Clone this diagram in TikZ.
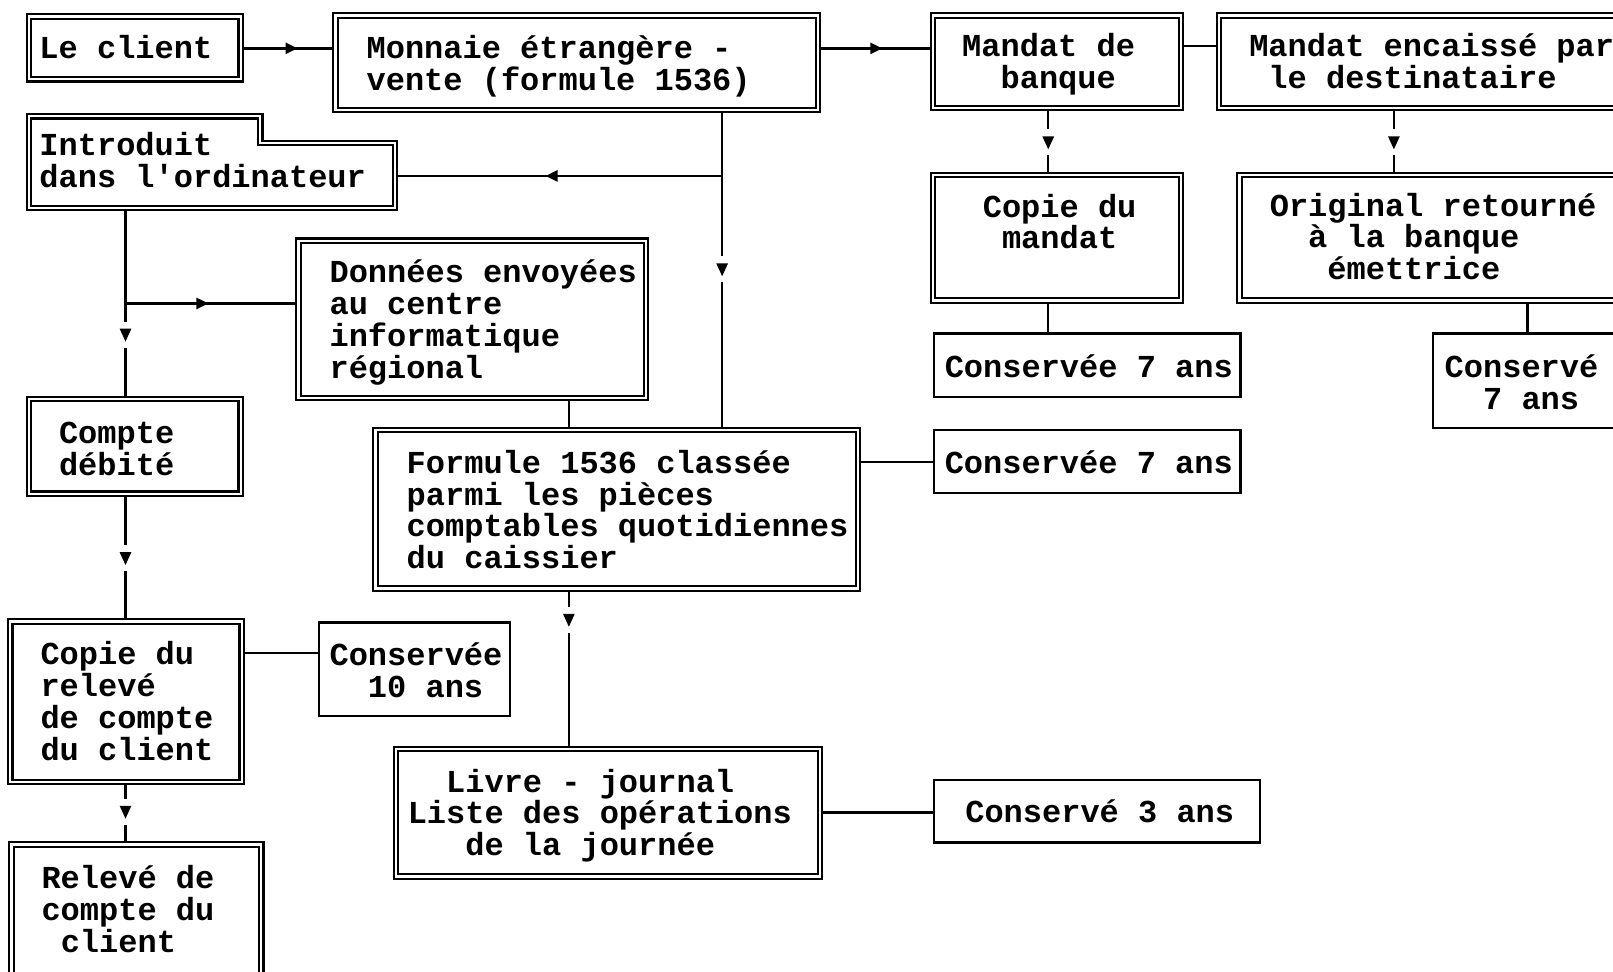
\documentclass[tikz,border=0pt]{standalone}
\usepackage{fontspec}
\newfontfamily\monofnt{Liberation Mono}
\usetikzlibrary{arrows.meta,decorations.markings,fit,backgrounds}
\begin{document}
\begin{tikzpicture}[x=0.51435pt,y=-0.51435pt,
  dbox/.style={draw, double, line width=1.05pt, double distance=1.2pt, inner sep=0pt, outer sep=0pt},
  hbox/.style={inner sep=0pt, outer sep=0pt},
  sbox/.style={draw, line width=1.2pt, inner sep=0pt, outer sep=0pt},
  txt/.style={anchor=base west, inner sep=0pt, align=left, font=\monofnt\bfseries\fontsize{16}{15.95}\selectfont},
  conn/.style={line width=1.2pt},
  arrowat/.style={postaction={decorate}, decoration={markings, mark=at position #1 with {\arrow{Triangle[length=6pt,width=5.5pt]}}}},
  gaparrowat/.style={postaction={decorate}, decoration={markings, mark=at position #1 with {\fill[white] (-10pt,-2.5pt) rectangle (3pt,2.5pt); \arrow{Triangle[length=6.5pt,width=5.5pt]}}}},
]
\useasboundingbox (0,0) rectangle (1568,944);
\clip (0,0) rectangle (1568,944);

% boxes
\node[dbox, fit={(28,16) (234,77)}] (client) {};
\node[dbox, fit={(326,15) (795,107)}] (monnaie) {};
\node[dbox, fit={(907,15) (1148,105)}] (mandatb) {};
\node[dbox, fit={(1185,15) (1600,105)}] (encaisse) {};
\node[hbox, fit={(28,113) (384,202)}] (intro) {};
\draw[double, line width=1.05pt, double distance=1.2pt, line join=miter]
  (28,113) -- (253,113) -- (253,139) -- (384,139) -- (384,202) -- (28,202) -- cycle;
\node[dbox, fit={(290,234) (628,387)}] (donnees) {};
\node[dbox, fit={(907,170) (1148,292)}] (copiem) {};
\node[dbox, fit={(1205,170) (1600,292)}] (original) {};
\node[sbox, fit={(908,324) (1206,386)}] (cons7a) {};
\node[sbox, fit={(1393,324) (1600,416)}] (cons7b) {};
\node[dbox, fit={(28,388) (234,480)}] (compte) {};
\node[dbox, fit={(365,418) (834,572)}] (formule) {};
\node[sbox, fit={(908,418) (1206,479)}] (cons7c) {};
\node[dbox, fit={(10,604) (235,760)}] (copier) {};
\node[sbox, fit={(310,605) (496,696)}] (cons10) {};
\node[dbox, fit={(385,728) (797,852)}] (livre) {};
\node[sbox, fit={(908,758) (1225,819)}] (cons3) {};
\node[dbox, fit={(11,821) (254,975)}] (releve) {};

% texts (anchored at the baseline of their last line)
\node[txt] (tclient) at (38,57) {Le client};
\node[txt] (tmonnaie) at (356,88) {Monnaie étrangère -\\vente (formule 1536)};
\node[txt] (tmandatb) at (935,86) {Mandat de\\~~banque};
\node[txt] (tencaisse) at (1214,86) {Mandat encaissé par\\~le destinataire};
\node[txt] (tintro) at (38,182) {Introduit\\dans l'ordinateur};
\node[txt] (tdonnees) at (320,368) {Données envoyées\\au centre\\informatique\\régional};
\node[txt] (tcopiem) at (955,242) {Copie du\\~mandat};
\node[txt] (toriginal) at (1234,272) {Original retourné\\~~à la banque\\~~~émettrice};
\node[txt] (tcons7a) at (918,367) {Conservée 7 ans};
\node[txt] (tcons7b) at (1404,398) {Conservé\\~~7 ans};
\node[txt] (tcompte) at (57,462) {Compte\\débité};
\node[txt] (tformule) at (395,553) {Formule 1536 classée\\parmi les pièces\\comptables quotidiennes\\du caissier};
\node[txt] (tcons7c) at (918,460) {Conservée 7 ans};
\node[txt] (tcopier) at (39,739) {Copie du\\relevé\\de compte\\du client};
\node[txt] (tcons10) at (320,678) {Conservée\\~~10 ans};
\node[txt] (tlivre) at (396,832) {~~Livre - journal\\Liste des opérations\\~~~de la journée};
\node[txt] (tcons3) at (938,800) {Conservé 3 ans};
\node[txt] (treleve) at (40,926) {Relevé de\\compte du\\~client};

% helper coordinates
\coordinate (yTop) at (0,47);
\coordinate (yMB) at (0,45);
\coordinate (xMB) at (1019,0);
\coordinate (xEN) at (1355,0);
\coordinate (xOR) at (1485,0);
\coordinate (xMO) at (702,0);
\coordinate (yIN) at (0,171);
\coordinate (xIN) at (122,0);
\coordinate (yDO) at (0,295);
\coordinate (xDO) at (553,0);
\coordinate (yFO) at (0,449);
\coordinate (yCR) at (0,635);
\coordinate (yLI) at (0,790);

\begin{pgfonlayer}{background}
\fill[white] (0,0) rectangle (1568,944);
\draw[conn, arrowat=0.6] (yTop -| client.east) -- (yTop -| monnaie.west);
\draw[conn, arrowat=0.56] (yTop -| monnaie.east) -- (yTop -| mandatb.west);
\draw[conn] (yMB -| mandatb.east) -- (yMB -| encaisse.west);
\draw[conn, gaparrowat=0.62] (xMB |- mandatb.south) -- (xMB |- copiem.north);
\draw[conn, gaparrowat=0.62] (xEN |- encaisse.south) -- (xEN |- original.north);
\draw[conn] (xMB |- copiem.south) -- (xMB |- cons7a.north);
\draw[conn] (xOR |- original.south) -- (xOR |- cons7b.north);
\draw[conn, gaparrowat=0.52] (xMO |- monnaie.south) -- (xMO |- formule.north);
\draw[conn, arrowat=0.54] (xMO |- yIN) -- (yIN -| intro.east);
\draw[conn, gaparrowat=0.70] (xIN |- intro.south) -- (xIN |- compte.north);
\draw[conn, arrowat=0.48] (xIN |- yDO) -- (yDO -| donnees.west);
\draw[conn] (xDO |- donnees.south) -- (xDO |- formule.north);
\draw[conn, gaparrowat=0.56] (xIN |- compte.south) -- (xIN |- copier.north);
\draw[conn, gaparrowat=0.24] (xDO |- formule.south) -- (xDO |- livre.north);
\draw[conn] (yFO -| formule.east) -- (yFO -| cons7c.west);
\draw[conn] (yCR -| copier.east) -- (yCR -| cons10.west);
\draw[conn, gaparrowat=0.59] (xIN |- copier.south) -- (xIN |- releve.north);
\draw[conn] (yLI -| livre.east) -- (yLI -| cons3.west);
\end{pgfonlayer}
\end{tikzpicture}
\end{document}
